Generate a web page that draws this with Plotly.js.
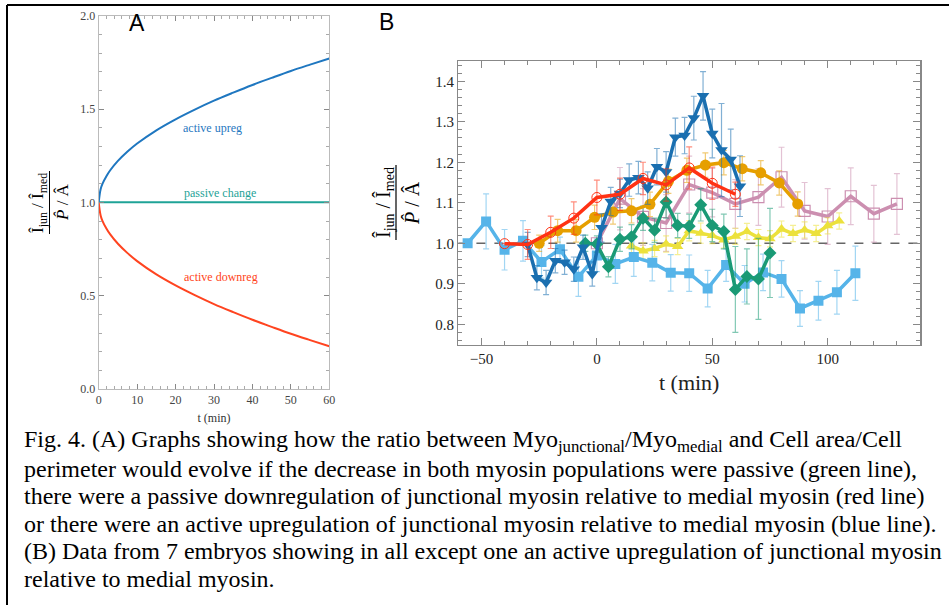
<!DOCTYPE html>
<html><head><meta charset="utf-8">
<script src="https://cdn.plot.ly/plotly-3.0.1.min.js"></script>
<style>html,body{margin:0;padding:0;background:#fff;}#chart{width:949px;height:605px;}</style>
</head><body><div id="chart"></div>
<script>
// ---------- Panel A data ----------
const aTime = [0, 0.5, 1, 2, 3, 5, 7.5, 10, 15, 20, 25, 30, 35, 40, 45, 50, 55, 60];
const aUpreg = [1.0, 1.07, 1.10, 1.14, 1.172, 1.222, 1.272, 1.315, 1.386, 1.445, 1.497, 1.545, 1.588, 1.629, 1.667, 1.704, 1.738, 1.771];
const aDownreg = [1.0, 0.93, 0.90, 0.86, 0.828, 0.778, 0.728, 0.685, 0.614, 0.555, 0.503, 0.455, 0.412, 0.371, 0.333, 0.296, 0.262, 0.229];
const aPassive = [1.0, 1.0, 1.0, 1.0, 1.0, 1.0, 1.0, 1.0, 1.0, 1.0, 1.0, 1.0, 1.0, 1.0, 1.0, 1.0, 1.0, 1.0];

// ---------- Panel B data (7 embryos) ----------
const skyT = [-56, -48, -40, -32, -24, -16, -8, 0, 8, 16, 24, 32, 40, 48, 56, 64, 72, 80, 88, 96, 104, 112];
const skyY = [1.0, 1.054, 0.984, 1.006, 0.954, 0.985, 0.917, 0.970, 0.949, 0.966, 0.952, 0.927, 0.926, 0.888, 0.946, 0.900, 0.928, 0.912, 0.839, 0.858, 0.879, 0.926];
const skyE = [0, 0.068, 0.05, 0.05, 0.04, 0.03, 0.048, 0.04, 0.048, 0.048, 0.045, 0.045, 0.045, 0.045, 0.04, 0.045, 0.045, 0.045, 0.044, 0.048, 0.054, 0.067];

const navyT = [-30, -26, -22, -18, -14, -10, -6, -2, 2, 6, 10, 14, 18, 22, 26, 30, 34, 38, 42, 46, 50, 54, 58, 62];
const navyY = [0.997, 0.915, 0.903, 0.957, 0.953, 0.936, 0.99, 0.924, 1.038, 1.103, 1.123, 1.156, 1.162, 1.136, 1.189, 1.176, 1.262, 1.266, 1.309, 1.364, 1.271, 1.23, 1.207, 1.141];
const navyE = [0.03, 0.03, 0.03, 0.03, 0.03, 0.03, 0.03, 0.03, 0.035, 0.035, 0.035, 0.04, 0.04, 0.04, 0.045, 0.05, 0.047, 0.045, 0.054, 0.06, 0.06, 0.115, 0.075, 0.075];

const redT = [-40, -30, -20, -10, 0, 10, 20, 30, 40, 50, 60];
const redY = [0.999, 0.997, 1.027, 1.062, 1.113, 1.121, 1.16, 1.144, 1.186, 1.148, 1.121];
const redE = [0, 0.037, 0.04, 0.04, 0.043, 0.04, 0.04, 0.04, 0.052, 0.04, 0.03];

const orangeT = [-25, -17, -9, -1, 7, 15, 23, 31, 39, 47, 55, 63, 71, 79, 87];
const orangeY = [1.0, 1.031, 1.031, 1.064, 1.077, 1.08, 1.096, 1.153, 1.18, 1.193, 1.199, 1.184, 1.174, 1.149, 1.097];
const orangeE = [0.02, 0.028, 0.028, 0.03, 0.03, 0.03, 0.03, 0.03, 0.03, 0.03, 0.03, 0.03, 0.03, 0.03, 0.03];

const pinkT = [0, 10, 20, 30, 40, 50, 60, 70, 80, 90, 100, 110, 120, 130];
const pinkY = [1.0, 1.11, 1.065, 1.05, 1.145, 1.125, 1.097, 1.114, 1.163, 1.08, 1.066, 1.116, 1.073, 1.097];
const pinkE = [0, 0.077, 0.07, 0.07, 0.07, 0.06, 0.06, 0.07, 0.074, 0.07, 0.069, 0.07, 0.07, 0.075];

const greenT = [-5, 0, 5, 10, 15, 20, 25, 30, 35, 40, 45, 50, 55, 60, 65, 70, 75];
const greenY = [1.0, 0.998, 0.942, 1.01, 1.016, 1.062, 1.032, 1.102, 1.044, 1.042, 1.095, 1.044, 1.029, 0.886, 0.918, 0.912, 0.976];
const greenE = [0.02, 0.02, 0.025, 0.03, 0.03, 0.03, 0.03, 0.04, 0.03, 0.03, 0.04, 0.04, 0.043, 0.106, 0.068, 0.10, 0.11];

const yellowT = [15, 20, 25, 30, 35, 40, 45, 50, 55, 60, 65, 70, 75, 80, 85, 90, 95, 100, 105];
const yellowY = [0.993, 0.981, 0.987, 0.998, 0.992, 1.031, 1.025, 1.019, 1.008, 1.017, 1.029, 1.014, 1.011, 1.035, 1.024, 1.033, 1.024, 1.043, 1.055];
const yellowE = [0.02, 0.02, 0.02, 0.02, 0.02, 0.025, 0.025, 0.02, 0.02, 0.02, 0.02, 0.02, 0.02, 0.02, 0.02, 0.02, 0.02, 0.02, 0.02];

const captionLines = [
  "Fig. 4. (A) Graphs showing how the ratio between Myo<sub>junctional</sub>/Myo<sub>medial</sub> and Cell area/Cell",
  "perimeter would evolve if the decrease in both myosin populations were passive (green line),",
  "there were a passive downregulation of junctional myosin relative to medial myosin (red line)",
  "or there were an active upregulation of junctional myosin relative to medial myosin (blue line).",
  "(B) Data from 7 embryos showing in all except one an active upregulation of junctional myosin",
  "relative to medial myosin."
];

// ---------- helpers ----------
const W = 949, H = 605;
const px = x => x / W;
const py = y => 1 - y / H;
const SERIF = "Liberation Serif, Times New Roman, serif";

const C = {
  up: "#1f77c0", passive: "#1fa397", down: "#ff4420",
  sky: "#56b4e9", navy: "#1a6fb0", red: "#ff3214", orange: "#e69f00",
  pink: "#cc8fb0", green: "#1a9a75", yellow: "#ece13c"
};
function rgba(hex, a) {
  const n = parseInt(hex.slice(1), 16);
  return `rgba(${(n >> 16) & 255},${(n >> 8) & 255},${n & 255},${a})`;
}
function series(x, y, e, color, symbol, size, opts) {
  opts = opts || {};
  return {
    type: "scatter", mode: "lines+markers", x: x, y: y,
    xaxis: "x2", yaxis: "y2",
    line: { color: opts.lineColor || color, width: 3.5 },
    marker: { symbol: symbol, size: size, color: color, line: { width: opts.mlw || 0, color: color } },
    error_y: { type: "data", array: e, visible: true, color: rgba(color, 0.55), thickness: 1.2, width: 3 },
    showlegend: false, hoverinfo: "skip"
  };
}
function note(text, x, y, size, color, extra) {
  return Object.assign({
    text: text, x: px(x), y: py(y), xref: "paper", yref: "paper",
    xanchor: "center", yanchor: "middle", showarrow: false,
    font: { family: SERIF, size: size, color: color }
  }, extra || {});
}

const traces = [
  // Panel A
  { type: "scatter", mode: "lines", x: aTime, y: aPassive, line: { color: C.passive, width: 2 }, showlegend: false, hoverinfo: "skip" },
  { type: "scatter", mode: "lines", x: aTime, y: aUpreg, line: { color: C.up, width: 2, shape: "spline", smoothing: 1 }, showlegend: false, hoverinfo: "skip" },
  { type: "scatter", mode: "lines", x: aTime, y: aDownreg, line: { color: C.down, width: 2, shape: "spline", smoothing: 1 }, showlegend: false, hoverinfo: "skip" },
  // Panel B
  series(pinkT, pinkY, pinkE, C.pink, "square-open", 11, { mlw: 1.2 }),
  series(yellowT, yellowY, yellowE, C.yellow, "triangle-up", 10),
  series(skyT, skyY, skyE, C.sky, "square", 10),
  series(greenT, greenY, greenE, C.green, "diamond", 10),
  series(orangeT, orangeY, orangeE, C.orange, "circle", 11),
  series(navyT, navyY, navyE, C.navy, "triangle-down", 11),
  series(redT, redY, redE, C.red, "circle-open", 10, { mlw: 1 })
];

const axisCommon = {
  showgrid: false, zeroline: false, showline: true, linecolor: "#999", linewidth: 1,
  ticks: "inside", tickcolor: "#888", mirror: "allticks",
  tickfont: { family: SERIF, color: "#333" }
};

const layout = {
  width: W, height: H,
  margin: { l: 0, r: 0, t: 0, b: 0 },
  paper_bgcolor: "#fff", plot_bgcolor: "#fff",
  showlegend: false,
  xaxis: Object.assign({}, axisCommon, {
    domain: [px(98.7), px(329.3)], range: [0, 60], dtick: 10, ticklen: 5,
    tickfont: { family: SERIF, size: 12, color: "#444" },
    minor: { dtick: 2, ticks: "inside", ticklen: 3, tickcolor: "#aaa" },
    linecolor: "#bbb",
    title: { text: "t (min)", font: { family: SERIF, size: 12, color: "#333" }, standoff: 7 },
    anchor: "y"
  }),
  yaxis: Object.assign({}, axisCommon, {
    domain: [py(389), py(15.7)], range: [0, 2], dtick: 0.5, tickformat: ".1f", ticklen: 5,
    tickfont: { family: SERIF, size: 12, color: "#444" },
    minor: { dtick: 0.1, ticks: "inside", ticklen: 3, tickcolor: "#aaa" },
    linecolor: "#bbb",
    anchor: "x"
  }),
  xaxis2: Object.assign({}, axisCommon, {
    domain: [px(458.4), px(920)], range: [-60, 140], dtick: 50, ticklen: 7,
    tickfont: { family: SERIF, size: 15, color: "#222" },
    minor: { dtick: 10, ticks: "inside", ticklen: 4, tickcolor: "#888" },
    linecolor: "#888", linewidth: 1.5,
    title: { text: "t (min)", font: { family: SERIF, size: 22, color: "#222" }, standoff: 8 },
    anchor: "y2"
  }),
  yaxis2: Object.assign({}, axisCommon, {
    domain: [py(344.5), py(61)], range: [0.75, 1.45], dtick: 0.1, tickformat: ".1f", ticklen: 7,
    tickfont: { family: SERIF, size: 15, color: "#222" },
    minor: { dtick: 0.02, ticks: "inside", ticklen: 4, tickcolor: "#888" },
    linecolor: "#888", linewidth: 1.5,
    anchor: "x2"
  }),
  shapes: [
    // outer border (top and left visible)
    { type: "line", xref: "paper", yref: "paper", x0: px(7), x1: px(960), y0: py(5), y1: py(5), line: { color: "#000", width: 2 } },
    { type: "line", xref: "paper", yref: "paper", x0: px(7), x1: px(7), y0: py(5), y1: py(620), line: { color: "#000", width: 2 } },
    // dashed reference line in B
    { type: "line", xref: "x2 domain", yref: "y2", x0: 0, x1: 1, y0: 1.0, y1: 1.0, line: { color: "#666", width: 1.3, dash: "dash" }, layer: "below" },
    // fraction bars of y titles
    { type: "line", xref: "paper", yref: "paper", x0: px(49.5), x1: px(49.5), y0: py(171), y1: py(234), line: { color: "#000", width: 1 } },
    { type: "line", xref: "paper", yref: "paper", x0: px(396), x1: px(396), y0: py(165), y1: py(240), line: { color: "#000", width: 1.2 } }
  ],
  annotations: [
    note("A", 137, 23, 23, "#000", { font: { family: "Liberation Sans, Arial, sans-serif", size: 23, color: "#000" } }),
    note("B", 386, 22, 23, "#000", { font: { family: "Liberation Sans, Arial, sans-serif", size: 23, color: "#000" } }),
    note("active upreg", 212, 128, 12, C.up),
    note("passive change", 220, 193, 12, C.passive),
    note("active downreg", 221, 277, 12, C.down),
    // Panel A y title (fraction)
    note("Î<sub>jun</sub> / Î<sub>med</sub>", 39, 203, 17, "#000", { textangle: -90 }),
    note("<i>P̂</i> / Â", 62, 202, 17, "#000", { textangle: -90 }),
    // Panel B y title (fraction)
    note("Î<sub>jun</sub> / Î<sub>med</sub>", 384, 203, 20, "#000", { textangle: -90 }),
    note("<i>P̂</i> / Â", 412, 203, 20, "#000", { textangle: -90 })
  ]
};

captionLines.forEach((t, i) => {
  layout.annotations.push({
    text: t, x: px(22), y: py(441 + 27.5 * i), xref: "paper", yref: "paper",
    xanchor: "left", yanchor: "middle", align: "left", showarrow: false,
    font: { family: SERIF, size: 24, color: "#000" }
  });
});

Plotly.newPlot("chart", traces, layout, { displayModeBar: false, staticPlot: true });
</script>
</body></html>
